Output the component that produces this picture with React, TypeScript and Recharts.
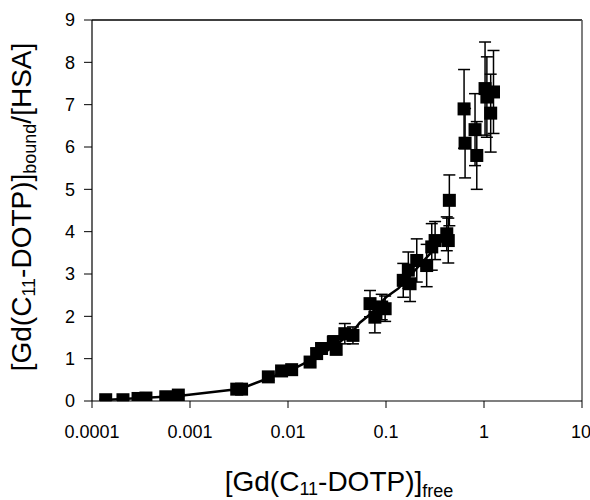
import { ScatterChart, Scatter, XAxis, YAxis, ErrorBar, ReferenceLine, Label } from 'recharts';

// 측정점 — x: [Gd(C11-DOTP)]free, y: bound/HSA, err: 오차 막대(±)
const freeConc = [
  0.000138, 0.000207, 0.000295, 0.000355, 0.000566, 0.00076, 0.003, 0.00336, 0.0063, 0.0086,
  0.0109, 0.0168, 0.0196, 0.022, 0.029, 0.031, 0.038, 0.046, 0.0687, 0.077,
  0.0904, 0.098, 0.15, 0.176, 0.169, 0.206, 0.26, 0.293, 0.317, 0.417,
  0.432, 0.443, 0.626, 0.641, 0.81, 0.844, 1.025, 1.07, 1.25, 1.17,
];
const boundRatio = [
  0.03, 0.03, 0.06, 0.07, 0.1, 0.14, 0.28, 0.28, 0.57, 0.71,
  0.74, 0.92, 1.12, 1.24, 1.39, 1.22, 1.59, 1.55, 2.3, 1.98,
  2.22, 2.18, 2.85, 2.77, 3.09, 3.32, 3.2, 3.64, 3.79, 3.95,
  3.79, 4.74, 6.9, 6.09, 6.41, 5.8, 7.38, 7.18, 7.3, 6.8,
];
const boundErr = [
  0.02, 0.02, 0.02, 0.02, 0.03, 0.03, 0.05, 0.05, 0.08, 0.08,
  0.08, 0.1, 0.12, 0.12, 0.15, 0.12, 0.24, 0.2, 0.31, 0.37,
  0.3, 0.3, 0.4, 0.42, 0.43, 0.51, 0.5, 0.55, 0.45, 0.4,
  0.53, 0.6, 0.93, 0.82, 0.85, 0.8, 1.1, 0.95, 0.98, 0.92,
];

// 맞춤 곡선(그림에서 읽은 점)
const fitX = [0.00012, 0.00076, 0.0033, 0.0065, 0.011, 0.02, 0.03, 0.045, 0.054, 0.07, 0.1, 0.134, 0.2, 0.3, 0.45];
const fitY = [0.02, 0.12, 0.29, 0.55, 0.74, 1.05, 1.3, 1.62, 1.85, 2.06, 2.45, 2.66, 3.1, 3.55, 4.0];

const xTicks = [0.0001, 0.001, 0.01, 0.1, 1, 10];
const yTicks = [0, 1, 2, 3, 4, 5, 6, 7, 8, 9];

const points = freeConc.map((x, i) => ({ x, y: boundRatio[i], err: boundErr[i] }));
const fitLine = fitX.map((x, i) => ({ x, y: fitY[i] }));

const FONT = '"Liberation Sans", Arial, sans-serif';
const SQ = 13;

const square = (p: { cx?: number; cy?: number }) => (
  <rect x={(p.cx ?? 0) - SQ / 2} y={(p.cy ?? 0) - SQ / 2} width={SQ} height={SQ} fill="#000" />
);
const noDot = () => <g />;

const xTitle = () => (
  <text x={339} y={491} textAnchor="middle" fontSize={28} fontFamily={FONT} fill="#000">
    [Gd(C
    <tspan fontSize={18} dy={4}>11</tspan>
    <tspan dy={-4}>-DOTP)]</tspan>
    <tspan fontSize={18} dy={6}>free</tspan>
  </text>
);

const yTitle = () => (
  <text x={0} y={0} transform="translate(31,207) rotate(-90)" textAnchor="middle" fontSize={28} fontFamily={FONT} fill="#000">
    [Gd(C
    <tspan fontSize={18} dy={4}>11</tspan>
    <tspan dy={-4}>-DOTP)]</tspan>
    <tspan fontSize={18} dy={5}>bound</tspan>
    <tspan dy={-5}>/[HSA]</tspan>
  </text>
);

export default function App() {
  const tick = { fontSize: 18, fill: '#000', fontFamily: FONT };
  return (
    <div style={{ position: 'absolute', left: 0, top: 0, background: '#fff' }}>
      <ScatterChart width={590} height={500} margin={{ top: 20, right: 8, bottom: 69, left: 0 }}>
        <XAxis
          dataKey="x"
          type="number"
          scale="log"
          domain={[0.0001, 10]}
          ticks={xTicks}
          allowDataOverflow
          tickFormatter={(v: number) => String(v)}
          tick={tick}
          tickSize={7}
          tickMargin={17}
          height={30}
          stroke="#000"
          axisLine={{ stroke: '#000', strokeWidth: 1.2 }}
        >
          <Label content={xTitle} />
        </XAxis>
        <YAxis
          dataKey="y"
          type="number"
          domain={[0, 9]}
          ticks={yTicks}
          allowDataOverflow
          tick={tick}
          tickSize={8}
          tickMargin={9}
          width={92}
          stroke="#000"
          axisLine={{ stroke: '#000', strokeWidth: 1.2 }}
        >
          <Label content={yTitle} />
        </YAxis>
        <ReferenceLine y={9} stroke="#000" strokeWidth={1.5} />
        <ReferenceLine x={10} stroke="#555" strokeWidth={1.5} />
        <Scatter data={fitLine} line={{ stroke: '#000', strokeWidth: 2.5 }} shape={noDot} isAnimationActive={false} />
        <Scatter data={points} shape={square} isAnimationActive={false}>
          <ErrorBar dataKey="err" direction="y" width={6} stroke="#000" strokeWidth={1.5} />
        </Scatter>
      </ScatterChart>
    </div>
  );
}
